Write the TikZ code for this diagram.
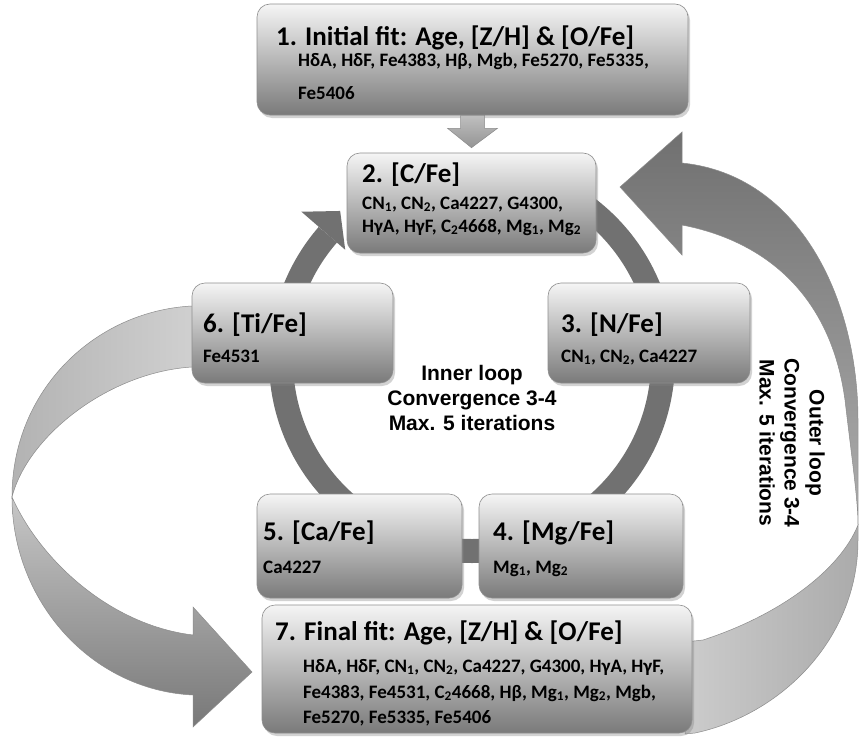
\documentclass[tikz,border=0pt]{standalone}
\usepackage{fontspec}
\setmainfont{Carlito}
\newfontfamily\loopfont{Liberation Sans}
\usetikzlibrary{shadows,calc}
\definecolor{boxtop}{HTML}{F5F5F5}
\definecolor{boxbot}{HTML}{7A7A7A}
\definecolor{boxedge}{HTML}{8E8E8E}
\definecolor{ringcol}{HTML}{717171}
\tikzset{
  box/.style={draw=boxedge, line width=0.6pt, rounded corners=13pt,
    top color=boxtop, bottom color=boxbot, inner sep=0pt,
    drop shadow={shadow xshift=2pt, shadow yshift=-3pt, opacity=0.35}},
  ttl/.style={font=\fontsize{27}{32}\selectfont\bfseries, anchor=base west, inner sep=0pt},
  sub/.style={font=\fontsize{19}{23}\selectfont\bfseries, anchor=base west, inner sep=0pt},
  looptxt/.style={font=\loopfont\bfseries\fontsize{21}{25}\selectfont, align=center, inner sep=0pt},
  ribbon/.style={draw=black!45, line width=0.5pt}
}
\begin{document}
\begin{tikzpicture}[x=1pt,y=-1pt]
\useasboundingbox (0,0) rectangle (859,744);
\fill[white] (0,0) rectangle (859,744);

% inner ring
\coordinate (rc) at (472,360);
\draw[line width=24pt, ringcol] ($(rc)+(-90:191)$) arc[start angle=-90, end angle=221, radius=191];
\fill[ringcol] ($(rc)+(221:226)$) -- ($(rc)+(228.5:199)$) -- ($(rc)+(221:168)$) -- cycle;

% left outer arrow (from 6 to 7)
\path[ribbon, left color=black!30, right color=black!18]
  (200,306) -- (192,306) .. controls (95,311) and (12,390) .. (12,497)
  .. controls (28,435) and (110,372) .. (192,367) -- (200,367) -- cycle;
\path[ribbon, top color=black!22, bottom color=black!53]
  (12,497) .. controls (12,600) and (90,690) .. (193,695) -- (193,727) -- (252,672)
  -- (193,607) -- (193,635) .. controls (110,625) and (40,560) .. (12,497) -- cycle;

% right outer arrow (from 7 to 2)
\path[ribbon, left color=black!20, right color=black!33]
  (858,525) .. controls (840,570) and (780,615) .. (703,640) -- (685,642) -- (685,734)
  -- (695,733) .. controls (780,715) and (858,640) .. (858,540) -- cycle;
\path[ribbon, top color=black!56, bottom color=black!32]
  (682,132) -- (620,187) -- (682,255) -- (682,225)
  .. controls (760,240) and (830,290) .. (845,400)
  .. controls (852,460) and (858,500) .. (858,525)
  -- (858,420) .. controls (858,300) and (800,175) .. (682,163) -- cycle;

% boxes
\node[box, minimum width=431pt, minimum height=111pt] (b1) at (472.5,59.5) {};
\node[box, minimum width=249pt, minimum height=100pt] (b2) at (471.5,203) {};
\node[box, minimum width=202pt, minimum height=100pt] (b3) at (649,333) {};
\node[box, minimum width=201pt, minimum height=100pt] (b6) at (292.5,333) {};
\node[box, minimum width=205pt, minimum height=104pt] (b5) at (359.5,546) {};
\node[box, minimum width=204pt, minimum height=104pt] (b4) at (581,546) {};
\node[box, minimum width=430pt, minimum height=128pt] (b7) at (477,669) {};

% down arrow 1 -> 2
\path[ribbon, top color=black!25, bottom color=black!42]
  ($(b1.south)+(-12,0)$) -- ($(b1.south)+(12,0)$) -- ($(b1.south)+(12,13)$)
  -- ($(b1.south)+(25,13)$) -- ($(b2.north)+(0,-5)$) -- ($(b1.south)+(-25,13)$)
  -- ($(b1.south)+(-12,13)$) -- cycle;

% texts
\node[ttl] (t1) at (276,45) {1. Initial fit: Age, [Z/H] \& [O/Fe]};
\node[sub] (s1a) at (298,66) {HδA, HδF, Fe4383, Hβ, Mgb, Fe5270, Fe5335,};
\node[sub] (s1b) at (298,99) {Fe5406};

\node[ttl] (t2) at (362,182) {2. [C/Fe]};
\node[sub] (s2a) at (362,209) {CN\textsubscript{1}, CN\textsubscript{2}, Ca4227, G4300,};
\node[sub] (s2b) at (362,232) {HγA, HγF, C\textsubscript{2}4668, Mg\textsubscript{1}, Mg\textsubscript{2}};

\node[ttl] (t3) at (561,332) {3. [N/Fe]};
\node[sub] (s3) at (561,362) {CN\textsubscript{1}, CN\textsubscript{2}, Ca4227};

\node[ttl] (t6) at (203,332) {6. [Ti/Fe]};
\node[sub] (s6) at (203,362) {Fe4531};

\node[ttl] (t5) at (263,540) {5. [Ca/Fe]};
\node[sub] (s5) at (263,573) {Ca4227};

\node[ttl] (t4) at (493,540) {4. [Mg/Fe]};
\node[sub] (s4) at (493,573) {Mg\textsubscript{1}, Mg\textsubscript{2}};

\node[ttl] (t7) at (275,640) {7. Final fit: Age, [Z/H] \& [O/Fe]};
\node[sub] (s7a) at (303,672) {HδA, HδF, CN\textsubscript{1}, CN\textsubscript{2}, Ca4227, G4300, HγA, HγF,};
\node[sub] (s7b) at (303,698) {Fe4383, Fe4531, C\textsubscript{2}4668, Hβ, Mg\textsubscript{1}, Mg\textsubscript{2}, Mgb,};
\node[sub] (s7c) at (303,723) {Fe5270, Fe5335, Fe5406};

\node[looptxt] (inner) at (472,398) {Inner loop\\Convergence 3-4\\Max. 5 iterations};
\node[looptxt, rotate=-90] (outer) at (792,443) {Outer loop\\Convergence 3-4\\Max. 5 iterations};
\end{tikzpicture}
\end{document}
